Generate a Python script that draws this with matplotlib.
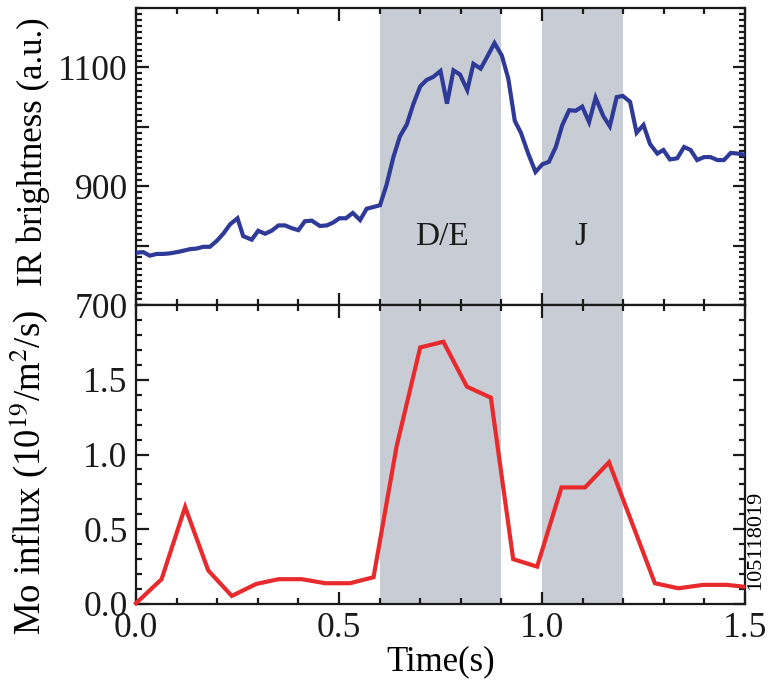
import matplotlib
matplotlib.use("Agg")
import matplotlib.pyplot as plt
from matplotlib.ticker import MultipleLocator

plt.rcParams['font.family'] = ['Liberation Serif', 'DejaVu Serif']
plt.rcParams['mathtext.fontset'] = 'stix'

# IR brightness (top panel)
ir_time = [0.000, 0.018, 0.034, 0.051, 0.067, 0.084, 0.108, 0.133, 0.149, 0.166,
           0.182, 0.199, 0.215, 0.232, 0.250, 0.264, 0.285, 0.301, 0.318, 0.334,
           0.351, 0.367, 0.385, 0.400, 0.416, 0.433, 0.453, 0.470, 0.486, 0.501,
           0.517, 0.534, 0.552, 0.568, 0.585, 0.601, 0.617, 0.634, 0.650, 0.667,
           0.683, 0.700, 0.716, 0.732, 0.750, 0.766, 0.782, 0.798, 0.816, 0.831,
           0.849, 0.865, 0.883, 0.901, 0.917, 0.933, 0.948, 0.966, 0.984, 1.001,
           1.017, 1.034, 1.050, 1.067, 1.083, 1.099, 1.116, 1.132, 1.151, 1.167,
           1.184, 1.199, 1.217, 1.233, 1.250, 1.266, 1.284, 1.299, 1.315, 1.333,
           1.350, 1.366, 1.382, 1.399, 1.415, 1.432, 1.448, 1.465, 1.481, 1.498]
ir_value = [788, 789, 783, 786, 786, 787, 790, 794, 795, 798,
            798, 808, 820, 836, 846, 816, 810, 825, 820, 825,
            834, 834, 829, 826, 841, 842, 833, 834, 839, 846,
            846, 855, 843, 862, 865, 868, 902, 949, 984, 1004,
            1038, 1068, 1079, 1084, 1094, 1039, 1095, 1088, 1062, 1106,
            1098, 1118, 1141, 1120, 1081, 1010, 990, 955, 924, 937,
            941, 966, 1003, 1028, 1027, 1034, 1008, 1049, 1018, 1001,
            1050, 1052, 1042, 990, 1003, 971, 955, 961, 945, 947,
            966, 961, 944, 949, 949, 944, 944, 956, 955, 953]

# Mo influx (bottom panel)
mo_time = [0.000, 0.063, 0.121, 0.178, 0.236, 0.296, 0.351, 0.408, 0.466, 0.527,
           0.585, 0.642, 0.700, 0.757, 0.815, 0.874, 0.929, 0.988, 1.048, 1.106,
           1.165, 1.278, 1.336, 1.397, 1.455, 1.496]
mo_value = [0.005, 0.166, 0.649, 0.224, 0.054, 0.134, 0.166, 0.166, 0.139, 0.139,
            0.179, 1.056, 1.716, 1.754, 1.454, 1.380, 0.300, 0.250, 0.780, 0.780,
            0.948, 0.139, 0.105, 0.128, 0.128, 0.116]

shade_spans = [(0.6, 0.9), (1.0, 1.2)]
shade_labels = ["D/E", "J"]
label_pos = [(0.754, 815), (1.095, 815)]

fig = plt.figure(figsize=(7.69, 6.86), dpi=100)
L, R = 136 / 769, 745 / 769
ax1 = fig.add_axes([L, 1 - 305 / 686, R - L, (305 - 8) / 686])
ax2 = fig.add_axes([L, 1 - 604 / 686, R - L, (604 - 305) / 686])

shade_color = '#c8ccd4'
for ax in (ax1, ax2):
    for (a, b) in shade_spans:
        ax.axvspan(a, b, color=shade_color, lw=0, zorder=0)

ax1.plot(ir_time, ir_value, color='#2f3a98', lw=3, zorder=3, solid_joinstyle='miter')
ax2.plot(mo_time, mo_value, color='#e82a2c', lw=3, zorder=3, clip_on=False, solid_joinstyle='miter')

for txt, (x, y) in zip(shade_labels, label_pos):
    ax1.text(x, y, txt, ha='center', va='center', fontsize=24, color='#1a1a1a')

ax1.set_xlim(0, 1.5)
ax1.set_ylim(700, 1200)
ax2.set_xlim(0, 1.5)
ax2.set_ylim(0, 2.0)

ax1.set_yticks([700, 800, 900, 1000, 1100])
ax1.set_yticklabels(['700', '', '900', '', '1100'])
ax1.yaxis.set_minor_locator(MultipleLocator(10))
ax1.set_xticks([0, 0.5, 1.0, 1.5])
ax1.xaxis.set_minor_locator(MultipleLocator(0.1))
ax1.tick_params(axis='x', labelbottom=False)

ax2.set_yticks([0, 0.5, 1.0, 1.5])
ax2.set_yticklabels(['0.0', '0.5', '1.0', '1.5'])
ax2.yaxis.set_minor_locator(MultipleLocator(0.1))
ax2.set_xticks([0, 0.5, 1.0, 1.5])
ax2.set_xticklabels(['0.0', '0.5', '1.0', '1.5'])
ax2.xaxis.set_minor_locator(MultipleLocator(0.1))

for ax in (ax1, ax2):
    for s in ax.spines.values():
        s.set_linewidth(1.6)
        s.set_color('#1a1a1a')
    ax.tick_params(which='both', direction='in', top=True, right=True, width=1.6, colors='#1a1a1a')
    ax.tick_params(which='major', length=9, labelsize=25.5, pad=6)
    ax.tick_params(which='minor', length=4.5)

ax1.set_ylabel('IR brightness (a.u.)', fontsize=25, labelpad=4)
ax2.set_ylabel(r'Mo influx (10$^{19}$/m$^{2}$/s)', fontsize=26.5, labelpad=4)
ax2.set_xlabel('Time(s)', fontsize=25, labelpad=0)
ax1.yaxis.set_label_coords(-0.142, 0.515)
ax2.yaxis.set_label_coords(-0.142, 0.44)

fig.text(756 / 769, 1 - 540 / 686, '105118019', rotation=90, ha='center', va='center', fontsize=16)

fig.savefig('out.png', dpi=100)
